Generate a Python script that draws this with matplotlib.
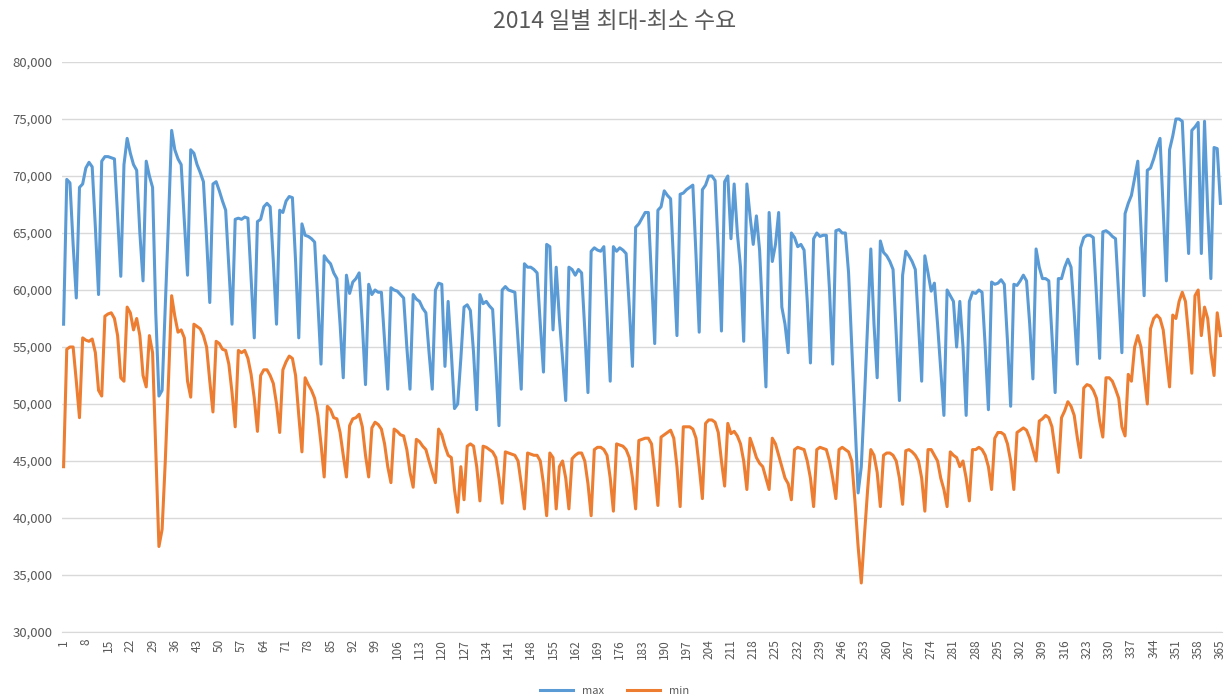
import matplotlib.pyplot as plt
from matplotlib.ticker import StrMethodFormatter

plt.rcParams['font.family'] = ['Noto Sans CJK KR', 'DejaVu Sans']

# 2014년 일별 최대 수요 (그림에서 읽은 값, 1월 1일 ~ 12월 31일)
max_demand = [
    57000, 69700, 69400, 64000, 59300,
    69000, 69300, 70700, 71200, 70800, 65500, 59600,
    71300, 71700, 71700, 71600, 71500, 66500, 61200,
    71000, 73300, 72000, 71000, 70500, 65000, 60800,
    71300, 70000, 69000, 58000, 50700, 51200, 58500,
    66000, 74000, 72300, 71500, 71000, 66000, 61300,
    72300, 72000, 71000, 70300, 69500, 64500, 58900,
    69300, 69500, 68700, 67800, 67000, 62000, 57000,
    66200, 66300, 66200, 66400, 66300, 61000, 55800,
    66000, 66200, 67300, 67600, 67300, 62500, 57000,
    67000, 66800, 67800, 68200, 68100, 62500, 55800,
    65800, 64800, 64700, 64500, 64200, 59000, 53500,
    63000, 62600, 62300, 61500, 61000, 57000, 52300,
    61300, 59700, 60700, 61000, 61500, 57000, 51700,
    60500, 59600, 60000, 59800, 59800, 55500, 51300,
    60200, 60000, 59900, 59600, 59300, 55000, 51300,
    59600, 59200, 59000, 58400, 58000, 54500, 51300,
    60000, 60600, 60500, 53300, 59000, 54500, 49600,
    50000, 54000, 58500, 58700, 58200, 54500, 49500,
    59600, 58800, 59000, 58600, 58300, 53500, 48100,
    60000, 60300, 60000, 59900, 59800, 55500, 51300,
    62300, 62000, 62000, 61800, 61500, 57000, 52800,
    64000, 63800, 56500, 62000, 57500, 54000, 50300,
    62000, 61800, 61300, 61800, 61500, 56500, 51000,
    63400, 63700, 63500, 63400, 63800, 58000, 52000,
    63800, 63400, 63700, 63500, 63200, 58500, 53300,
    65500, 65800, 66300, 66800, 66800, 61000, 55300,
    67000, 67300, 68700, 68300, 68000, 62000, 56000,
    68400, 68500, 68800, 69000, 69200, 63000, 56300,
    68800, 69200, 70000, 70000, 69600, 63500, 56400,
    69500, 70000, 64500, 69300, 65000, 62000, 55500,
    69300, 66500, 64000, 66500, 63500, 57500, 51500,
    66800, 62500, 64000, 66800, 58500, 57000, 54500,
    65000, 64600, 63800, 64000, 63500, 59000, 53600,
    64500, 65000, 64700, 64800, 64800, 60000, 53500,
    65200, 65300, 65000, 65000, 61500, 55000, 48500,
    42200, 44500, 50500, 57000, 63600, 57000, 52300,
    64300, 63300, 63000, 62500, 61800, 56000, 50300,
    61300, 63400, 63000, 62500, 61800, 57000, 52000,
    63000, 61500, 59900, 60600, 57000, 53000, 49000,
    60000, 59500, 59000, 55000, 59000, 55000, 49000,
    59000, 59800, 59700, 60000, 59800, 55000, 49500,
    60700, 60500, 60600, 60900, 60500, 55500, 49800,
    60500, 60400, 60800, 61300, 60800, 57000, 52200,
    63600, 62000, 61000, 61000, 60800, 56000, 51000,
    61000, 61000, 62000, 62700, 62000, 58000, 53500,
    63700, 64600, 64800, 64800, 64600, 59500, 54000,
    65100, 65200, 65000, 64700, 64500, 59500, 54500,
    66700, 67600, 68300, 69800, 71300, 65500, 59500,
    70500, 70700, 71500, 72500, 73300, 67000, 60800,
    72300, 73500, 75000, 75000, 74800, 68500, 63200,
    74000, 74300, 74700, 63200, 74800, 67000, 61000,
    72500, 72400, 67600,
]

# 2014년 일별 최소 수요
min_demand = [
    44500, 54800, 55000, 55000, 52000,
    48800, 55800, 55600, 55500, 55700, 54500, 51200,
    50700, 57700, 57900, 58000, 57500, 56000, 52300,
    52000, 58500, 58000, 56500, 57500, 56000, 52500,
    51500, 56000, 54500, 46000, 37500, 39000, 45000,
    52000, 59500, 57700, 56300, 56500, 55800, 52000,
    50600, 57000, 56800, 56600, 56000, 55000, 52000,
    49300, 55500, 55300, 54800, 54700, 53500, 51000,
    48000, 54700, 54500, 54700, 54000, 52600, 50500,
    47600, 52500, 53000, 53000, 52500, 51800, 50000,
    47500, 53000, 53700, 54200, 54000, 52500, 49000,
    45800, 52300, 51700, 51200, 50500, 49000, 46500,
    43600, 49800, 49500, 48800, 48700, 47500, 45500,
    43600, 48100, 48700, 48800, 49100, 48000, 45500,
    43600, 47900, 48400, 48200, 47800, 46500, 44500,
    43100, 47800, 47600, 47300, 47200, 46000, 44000,
    42700, 46900, 46700, 46300, 46000, 45000, 44000,
    43100, 47800, 47300, 46300, 45500, 45300, 42500,
    40500, 44500, 41600, 46300, 46500, 46300, 44500,
    41500, 46300, 46200, 46000, 45800, 45300, 43500,
    41300, 45800, 45700, 45600, 45500, 45000, 43000,
    40800, 45700, 45600, 45500, 45500, 45000, 43000,
    40200, 45700, 45300, 40800, 44500, 45000, 43500,
    40800, 45200, 45500, 45700, 45700, 45000, 43000,
    40200, 46000, 46200, 46200, 46000, 45500, 43500,
    40600, 46500, 46400, 46300, 46000, 45300, 43500,
    40800, 46800, 46900, 47000, 47000, 46500, 44000,
    41100, 47100, 47300, 47500, 47700, 47000, 44500,
    41000, 48000, 48000, 48000, 47800, 47000, 44500,
    41700, 48300, 48600, 48600, 48400, 47500, 45000,
    42800, 48300, 47400, 47600, 47200, 46500, 45000,
    42500, 47000, 46200, 45300, 44800, 44500, 43500,
    42500, 47000, 46500, 45500, 44500, 43500, 43000,
    41600, 46000, 46200, 46100, 46000, 45000, 43500,
    41000, 46000, 46200, 46100, 46000, 45000, 43500,
    41700, 46000, 46200, 46000, 45800, 45000, 41500,
    37500, 34300, 38500, 42500, 46000, 45500, 44000,
    41000, 45500, 45700, 45700, 45500, 45000, 43500,
    41200, 45900, 46000, 45800, 45500, 45000, 43500,
    40600, 46000, 46000, 45500, 45000, 43500, 42500,
    41000, 45800, 45500, 45300, 44500, 45000, 43500,
    41500, 46000, 46000, 46200, 46000, 45500, 44500,
    42500, 47000, 47500, 47500, 47300, 46500, 45000,
    42500, 47500, 47700, 47900, 47700, 47000, 46000,
    45000, 48500, 48700, 49000, 48800, 48000, 46000,
    44000, 48800, 49400, 50200, 49800, 49000, 47000,
    45300, 51400, 51700, 51600, 51200, 50500, 48500,
    47100, 52300, 52300, 52000, 51300, 50500, 48000,
    47200, 52600, 52000, 55000, 56000, 55000, 52500,
    50000, 56600, 57500, 57800, 57500, 56500, 54000,
    51500, 57800, 57500, 59000, 59800, 59000, 56000,
    52700, 59500, 60000, 56000, 58500, 57500, 54500,
    52500, 58000, 56000,
]

days = list(range(1, len(max_demand) + 1))
tick_days = days[::7]
y_ticks = [30000, 35000, 40000, 45000, 50000, 55000, 60000, 65000, 70000, 75000, 80000]

fig = plt.figure(figsize=(12.29, 6.99), dpi=100)
ax = fig.add_axes([62 / 1229, 1 - 632 / 699, 1160 / 1229, 570 / 699])

ax.plot(days, max_demand, color='#5B9BD5', linewidth=2.2, label='max')
ax.plot(days, min_demand, color='#ED7D31', linewidth=2.2, label='min')

ax.set_xlim(0.5, 365.5)
ax.set_ylim(30000, 80000)
ax.set_yticks(y_ticks)
ax.yaxis.set_major_formatter(StrMethodFormatter('{x:,.0f}'))
ax.set_xticks(tick_days)
ax.set_xticklabels([str(d) for d in tick_days], rotation=90)

# 엑셀 스타일 눈금선
ax.grid(axis='y', color='#d9d9d9', linewidth=1)
ax.set_axisbelow(True)
for side in ['top', 'right', 'left']:
    ax.spines[side].set_visible(False)
ax.spines['bottom'].set_color('#d9d9d9')
ax.tick_params(axis='both', length=0, colors='#595959')
ax.tick_params(axis='y', pad=7, labelsize=9.5)
ax.tick_params(axis='x', pad=5, labelsize=8.5)

fig.text(0.5, 1 - 21 / 699, '2014 일별 최대-최소 수요', ha='center', va='center',
         fontsize=16.5, color='#595959')
fig.legend(loc='lower center', ncol=2, frameon=False, fontsize=8,
           bbox_to_anchor=(0.5, -0.01), handlelength=3, labelcolor='#595959')

fig.savefig('out.png', dpi=100)
